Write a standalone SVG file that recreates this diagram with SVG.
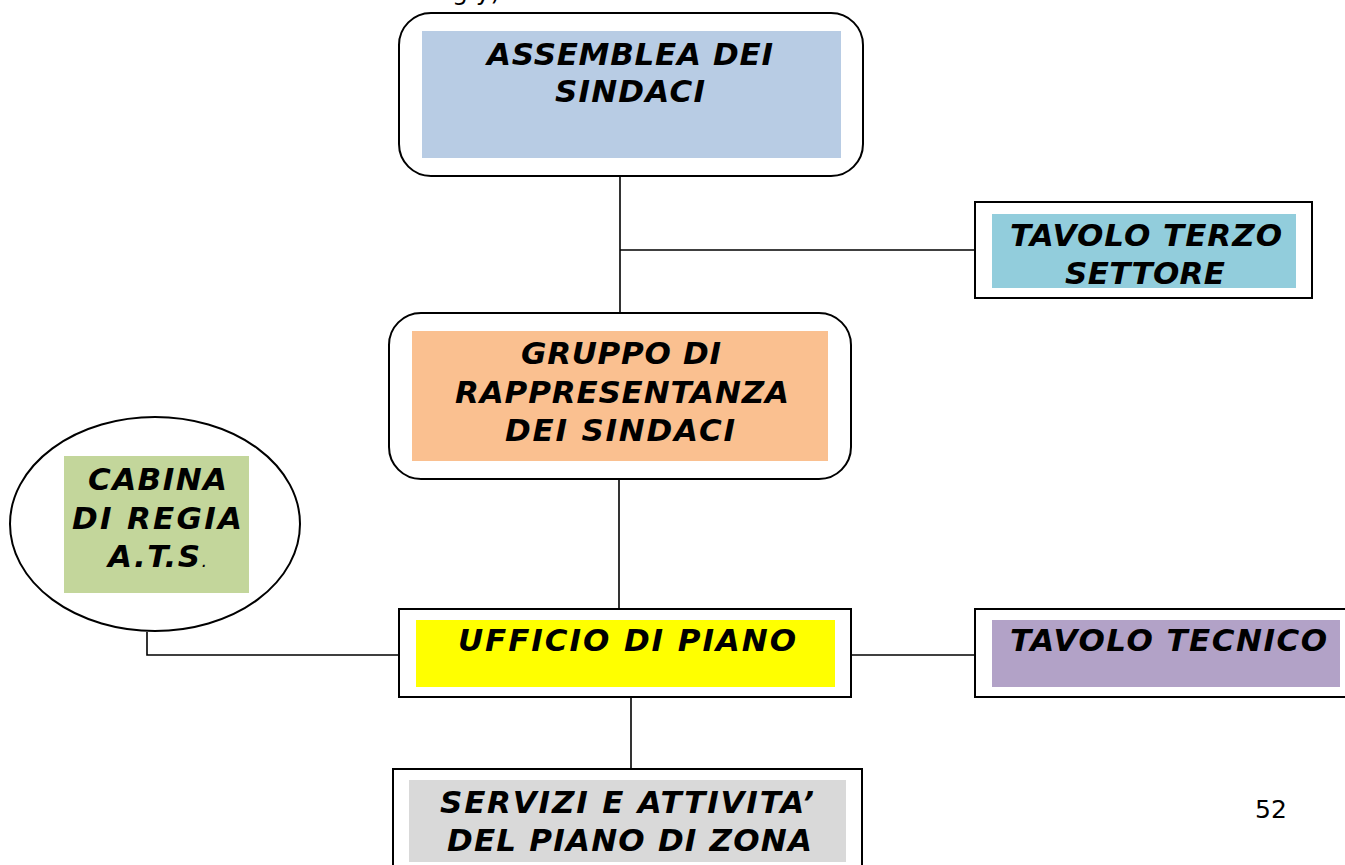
<svg xmlns="http://www.w3.org/2000/svg" width="1345" height="865" viewBox="0 0 1345 865">
<style>
.frame{fill:#fff;stroke:#000;stroke-width:2}
.lbl{font-family:"DejaVu Sans","Verdana",sans-serif;font-weight:bold;font-style:italic;font-size:31px;fill:#000}
.conn{fill:none;stroke:#000;stroke-width:1.6}
.pg{font-family:"DejaVu Sans",sans-serif;font-size:25px;fill:#000}
</style>
<rect width="1345" height="865" fill="#fff"/>
<text class="pg" x="452" y="0">g y)</text>
<g id="connectors">
<path class="conn" d="M620 176V313"/>
<path class="conn" d="M620 250H975"/>
<path class="conn" d="M619 479V609"/>
<path class="conn" d="M147 632V655H399"/>
<path class="conn" d="M851 655H975"/>
<path class="conn" d="M631 697V769"/>
</g>
<g id="assemblea">
<rect class="frame" x="399" y="13" width="464" height="163" rx="32"/>
<rect x="422" y="31" width="419" height="127" fill="#B8CCE4"/>
<text class="lbl" x="487" y="65" textLength="286" lengthAdjust="spacing">ASSEMBLEA DEI</text>
<text class="lbl" x="555" y="102" textLength="150" lengthAdjust="spacing">SINDACI</text>
</g>
<g id="tavolo-terzo">
<rect class="frame" x="975" y="202" width="337" height="96"/>
<rect x="992" y="214" width="304" height="74" fill="#92CDDC"/>
<text class="lbl" x="1010" y="246" textLength="272" lengthAdjust="spacing">TAVOLO TERZO</text>
<text class="lbl" x="1065" y="284" textLength="160" lengthAdjust="spacing">SETTORE</text>
</g>
<g id="gruppo">
<rect class="frame" x="389" y="313" width="462" height="166" rx="32"/>
<rect x="412" y="331" width="416" height="130" fill="#FAC090"/>
<text class="lbl" x="521" y="364" textLength="200" lengthAdjust="spacing">GRUPPO DI</text>
<text class="lbl" x="455" y="403" textLength="334" lengthAdjust="spacing">RAPPRESENTANZA</text>
<text class="lbl" x="505" y="441" textLength="230" lengthAdjust="spacing">DEI SINDACI</text>
</g>
<g id="cabina">
<ellipse class="frame" cx="155" cy="524" rx="145" ry="107"/>
<rect x="64" y="456" width="185" height="137" fill="#C3D69B"/>
<text class="lbl" x="88" y="490" textLength="139" lengthAdjust="spacing">CABINA</text>
<text class="lbl" x="72" y="529" textLength="170" lengthAdjust="spacing">DI REGIA</text>
<text class="lbl" x="108" y="567"><tspan textLength="92" lengthAdjust="spacing">A.T.S</tspan><tspan font-size="18" font-weight="normal">.</tspan></text>
</g>
<g id="ufficio">
<rect class="frame" x="399" y="609" width="452" height="88"/>
<rect x="416" y="620" width="419" height="67" fill="#FFFF00"/>
<text class="lbl" x="458" y="651" textLength="338" lengthAdjust="spacing">UFFICIO DI PIANO</text>
</g>
<g id="tavolo-tecnico">
<rect class="frame" x="975" y="609" width="380" height="88"/>
<rect x="992" y="620" width="348" height="67" fill="#B2A2C7"/>
<text class="lbl" x="1010" y="651" textLength="317" lengthAdjust="spacing">TAVOLO TECNICO</text>
</g>
<g id="servizi">
<rect class="frame" x="393" y="769" width="469" height="110"/>
<rect x="409" y="780" width="437" height="82" fill="#D9D9D9"/>
<text class="lbl" x="440" y="813" textLength="374" lengthAdjust="spacing">SERVIZI E ATTIVITA’</text>
<text class="lbl" x="447" y="851" textLength="365" lengthAdjust="spacing">DEL PIANO DI ZONA</text>
</g>
<text class="pg" x="1255" y="818">52</text>
</svg>
